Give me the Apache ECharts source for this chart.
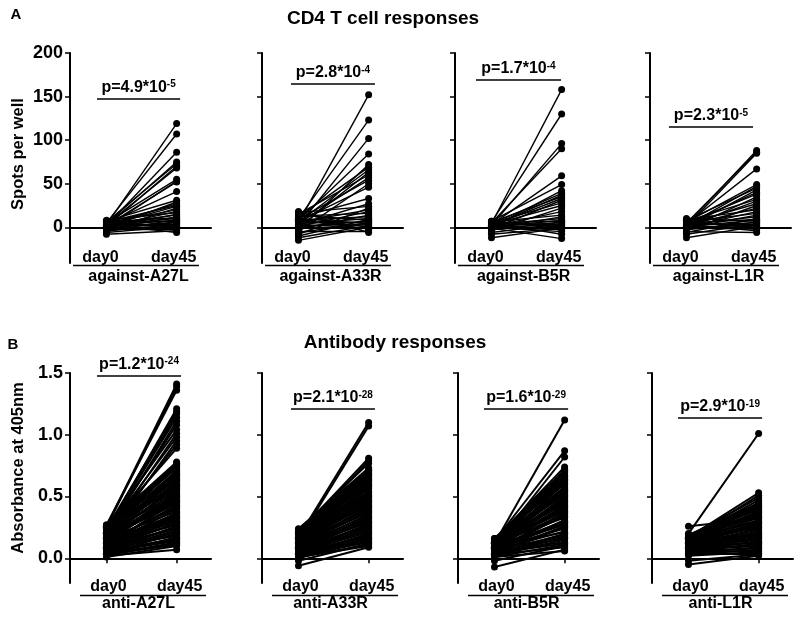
<!DOCTYPE html>
<html><head><meta charset="utf-8">
<script src="https://cdn.jsdelivr.net/npm/echarts@6/dist/echarts.min.js"></script>
<style>html,body{margin:0;padding:0;background:#fff}#c{width:800px;height:623px}</style>
</head><body><div id="c"></div>
<script>
// ---------------- DATA ----------------
const timepoints = ['day0', 'day45'];
const cd4Title = 'CD4 T cell responses';
const abTitle = 'Antibody responses';
const cd4YName = 'Spots per well';
const abYName = 'Absorbance at 405nm';
const cd4Antigens = ['against-A27L', 'against-A33R', 'against-B5R', 'against-L1R'];
const abAntigens = ['anti-A27L', 'anti-A33R', 'anti-B5R', 'anti-L1R'];
const cd4PValues = [['4.9', '-5'], ['2.8', '-4'], ['1.7', '-4'], ['2.3', '-5']];
const abPValues = [['1.2', '-24'], ['2.1', '-28'], ['1.6', '-29'], ['2.9', '-19']];
const cd4YTicks = [0, 50, 100, 150, 200];
const abYTicks = [0, 0.5, 1.0, 1.5];

// CD4 T cell responses (spots per well)
const cd4_A27L_day0 = [3,5,2,4,6,1,3,5,0,2,4,7,-1,3,6,2,-3,5,1,8,0,4,-2,6,3,-5,2,7,-1,0,4,-4,1,-6,5,-2,-8,3];
const cd4_A27L_day45 = [119,107,86,75,73,70,68,55,53,52,41,31,29,27,25,24,22,20,18,17,15,14,12,11,10,9,8,7,6,5,4,3,2,1,0,-2,-4,-6];
const cd4_A33R_day0 = [5,10,2,8,-3,12,6,0,15,4,9,-5,7,11,3,17,-8,6,1,13,-2,8,4,-10,14,0,5,-6,10,2,-12,7,-15,3,9,-4,18];
const cd4_A33R_day45 = [152,123,102,84,72,69,66,63,60,57,54,50,46,33,27,24,22,20,18,16,14,12,10,9,8,7,6,5,4,3,2,1,0,-1,-2,-4,-6];
const cd4_B5R_day0 = [4,6,2,5,3,7,0,4,1,6,2,-2,5,3,-4,1,6,-1,3,0,5,-3,2,-6,4,1,-2,7,-12,-8,3,0,5,-1];
const cd4_B5R_day45 = [158,130,96,90,59,49,42,39,37,35,33,31,28,25,22,18,14,12,10,8,7,6,5,4,3,2,1,0,-1,-1,-3,-5,-8,-13];
const cd4_L1R_day0 = [3,5,1,4,6,2,8,0,3,5,-2,7,1,4,-4,2,9,0,6,-1,3,-6,5,1,10,-3,2,-8,4,0,-12,6,-1,3,-5];
const cd4_L1R_day45 = [88,86,85,67,49,47,45,43,40,38,35,32,30,27,25,22,20,18,16,14,12,10,9,8,7,6,5,4,3,2,1,0,-2,-4,-6];

// Antibody responses (absorbance at 405nm)
const ab_A27L_day0 = [0.26,0.25,0.27,0.22,0.24,0.20,0.23,0.19,0.21,0.25,0.18,0.22,0.16,0.20,0.24,
  0.27,0.24,0.26,0.22,0.25,0.21,0.23,0.19,0.26,0.20,0.18,0.24,0.17,0.21,0.15,0.22,0.19,0.14,0.20,0.16,
  0.13,0.18,0.15,0.11,0.17,0.12,0.14,0.10,0.16,0.09,0.13,0.11,0.08,0.12,0.07,0.10,0.06,0.09,0.05,0.08,
  0.04,0.07,0.03,0.06,0.05,0.02,0.04,0.03,0.01,0.02,
  0.23,0.19,0.21,0.17,0.15,0.18,0.13,0.14,0.10,0.12,0.08,0.09,0.05,0.06,0.11,0.16,0.20];
const ab_A27L_day45 = [1.41,1.39,1.36,1.21,1.19,1.17,1.14,1.11,1.08,1.04,1.01,0.98,0.95,0.92,0.89,
  0.78,0.77,0.76,0.74,0.73,0.71,0.70,0.69,0.67,0.66,0.65,0.63,0.62,0.60,0.59,0.58,0.56,0.55,0.53,0.52,
  0.50,0.49,0.47,0.46,0.44,0.43,0.41,0.40,0.38,0.37,0.35,0.34,0.32,0.31,0.29,0.28,0.26,0.25,0.23,0.22,
  0.20,0.19,0.17,0.16,0.15,0.13,0.12,0.11,0.10,0.07,
  0.75,0.68,0.61,0.57,0.51,0.45,0.42,0.36,0.33,0.27,0.24,0.18,0.14,0.21,0.30,0.48,0.64];
const ab_A33R_day0 = [0.17,0.15,0.21,0.19,0.23,
  0.24,0.21,0.23,0.20,0.22,0.19,0.21,0.18,0.20,0.17,0.19,0.16,0.18,0.15,0.17,0.14,0.16,0.13,0.15,0.12,
  0.14,0.11,0.13,0.10,0.12,0.09,0.11,0.08,0.10,0.07,0.09,0.06,0.08,0.05,0.07,0.04,0.06,0.03,0.05,0.02,
  0.04,0.01,0.03,0.00,0.02,-0.02,0.01,-0.06,
  0.22,0.18,0.20,0.16,0.13,0.15,0.11,0.12,0.08,0.09,0.06,0.07,0.03,0.04,0.01,0.19];
const ab_A33R_day45 = [1.10,1.07,0.81,0.79,0.77,
  0.73,0.72,0.70,0.69,0.68,0.66,0.65,0.64,0.62,0.61,0.60,0.58,0.57,0.56,0.54,0.53,0.51,0.50,0.49,0.47,
  0.46,0.45,0.43,0.42,0.40,0.39,0.38,0.36,0.35,0.34,0.32,0.31,0.30,0.28,0.27,0.25,0.24,0.23,0.21,0.20,
  0.19,0.17,0.16,0.15,0.13,0.12,0.11,0.09,
  0.71,0.63,0.59,0.52,0.48,0.44,0.41,0.37,0.33,0.29,0.26,0.22,0.18,0.14,0.10,0.67];
const ab_B5R_day0 = [0.12,0.14,0.10,
  0.15,0.13,0.16,0.12,0.14,0.11,0.15,0.13,0.10,0.16,0.12,0.14,0.09,0.13,0.11,0.15,0.08,0.12,0.10,0.14,
  0.07,0.11,0.09,0.13,0.06,0.10,0.08,0.12,0.05,0.09,0.07,0.11,0.04,0.08,0.06,0.10,0.03,0.07,0.05,0.02,
  0.06,0.04,-0.02,0.03,-0.07,0.01,
  0.14,0.12,0.15,0.11,0.13,0.09,0.10,0.08,0.11,0.06,0.07,0.05,0.04,0.03,0.01,0.12];
const ab_B5R_day45 = [1.12,0.87,0.82,
  0.74,0.72,0.71,0.69,0.67,0.66,0.64,0.63,0.61,0.60,0.58,0.57,0.55,0.54,0.52,0.51,0.49,0.48,0.46,0.45,
  0.43,0.42,0.40,0.39,0.37,0.36,0.34,0.33,0.31,0.30,0.28,0.27,0.25,0.24,0.22,0.21,0.19,0.18,0.16,0.15,
  0.13,0.12,0.10,0.09,0.07,0.06,
  0.70,0.65,0.62,0.56,0.53,0.50,0.47,0.41,0.38,0.35,0.29,0.26,0.20,0.17,0.11,0.44];
const ab_L1R_day0 = [0.20,0.17,0.15,0.18,0.16,
  0.19,0.17,0.18,0.16,0.19,0.15,0.17,0.14,0.16,0.13,0.26,0.15,0.12,0.14,0.11,0.13,0.10,0.12,0.09,0.11,
  0.08,0.10,0.07,0.09,0.06,0.08,0.05,0.07,0.04,0.06,0.03,0.02,0.04,-0.02,-0.05,
  0.18,0.16,0.14,0.15,0.12,0.11,0.09,0.07,0.05,0.17,0.13,0.10];
const ab_L1R_day45 = [1.01,0.53,0.51,0.49,0.47,
  0.44,0.43,0.42,0.40,0.39,0.38,0.37,0.35,0.34,0.33,0.32,0.30,0.29,0.28,0.27,0.25,0.24,0.23,0.22,0.20,
  0.19,0.18,0.17,0.15,0.14,0.13,0.12,0.10,0.09,0.08,0.07,0.05,0.04,0.03,0.02,
  0.41,0.36,0.31,0.26,0.21,0.16,0.13,0.11,0.06,0.45,0.28,0.19];

// ---------------- LAYOUT ----------------
const FONT = '"Liberation Sans", Arial, Helvetica, sans-serif';
const rows = [
  {
    title: cd4Title, letter: 'A', yName: cd4YName, names: cd4Antigens, pvals: cd4PValues, ticks: cd4YTicks,
    day0: [cd4_A27L_day0, cd4_A33R_day0, cd4_B5R_day0, cd4_L1R_day0],
    day45: [cd4_A27L_day45, cd4_A33R_day45, cd4_B5R_day45, cd4_L1R_day45],
    lefts: [70, 262, 455, 650], top: 53, height: 210, min: -41, max: 200, fmt: v => String(v),
    pY: [148, 164.5, 169, 115], pX: [[-0.135, 1.05], [-0.107, 1.09], [-0.221, 0.991], [-0.25, 0.949]],
    titleXY: [383, 19], letterXY: [16, 15], yNameXY: [18, 154], lineW: 1.4,
    dayOff: [-6, -3], dayY: 258, lineY: 265.5, lineX: [3, 129], catY: 277
  },
  {
    title: abTitle, letter: 'B', yName: abYName, names: abAntigens, pvals: abPValues, ticks: abYTicks,
    day0: [ab_A27L_day0, ab_A33R_day0, ab_B5R_day0, ab_L1R_day0],
    day45: [ab_A27L_day45, ab_A33R_day45, ab_B5R_day45, ab_L1R_day45],
    lefts: [70, 262, 458, 652], top: 373, height: 210, min: -0.2, max: 1.5, fmt: v => v.toFixed(1),
    pY: [1.479, 1.209, 1.209, 1.136], pX: [[-0.135, 1.063], [-0.107, 1.09], [-0.15, 1.05], [-0.15, 1.05]],
    titleXY: [395, 343], letterXY: [13, 345], yNameXY: [18, 468], lineW: 2,
    dayOff: [2, 3], dayY: 587, lineY: 595.5, lineX: [10, 136], catY: 604
  }
];
const GRID_W = 141, XMIN = -0.52, XMAX = 1.49;

const grid = [], xAxis = [], yAxis = [], series = [];
rows.forEach((r, ri) => {
  r.lefts.forEach((left, i) => {
    const g = ri * 4 + i;
    grid.push({ left: left, top: r.top, width: GRID_W, height: r.height, containLabel: false });
    xAxis.push({
      type: 'value', gridIndex: g, min: XMIN, max: XMAX,
      axisLine: { show: true, onZero: true, lineStyle: { color: '#000', width: 2 } },
      axisTick: { show: true, customValues: [0, 1], length: 5, lineStyle: { color: '#000', width: 1.5 } },
      axisLabel: { show: false }, splitLine: { show: false }
    });
    yAxis.push({
      type: 'value', gridIndex: g, min: r.min, max: r.max,
      axisLine: { show: true, onZero: false, lineStyle: { color: '#000', width: 2 } },
      axisTick: { show: true, customValues: r.ticks, length: 5, lineStyle: { color: '#000', width: 1.5 } },
      axisLabel: {
        show: i === 0, customValues: r.ticks, formatter: r.fmt, margin: 7,
        fontSize: 18, fontWeight: 'bold', fontFamily: FONT, color: '#000'
      },
      splitLine: { show: false }
    });
    const d0 = r.day0[i], d45 = r.day45[i];
    series.push({
      type: 'lines', coordinateSystem: 'cartesian2d', xAxisIndex: g, yAxisIndex: g,
      silent: true, z: 2, polyline: false,
      lineStyle: { color: '#000', width: r.lineW, opacity: 1, curveness: 0 },
      data: d0.map((v, k) => ({ coords: [[0, v], [1, d45[k]]] }))
    });
    const p = r.pvals[i];
    series.push({
      type: 'scatter', xAxisIndex: g, yAxisIndex: g, silent: true, z: 3,
      symbol: 'circle', symbolSize: 7, itemStyle: { color: '#000', opacity: 1 },
      data: d0.map(v => [0, v]).concat(d45.map(v => [1, v])),
      markLine: {
        silent: true, symbol: ['none', 'none'], animation: false,
        lineStyle: { color: '#000', width: 1.5, type: 'solid' },
        label: {
          show: true, position: 'insideMiddleTop', distance: 3,
          formatter: '{b|p=' + p[0] + '*10}{s|' + p[1] + '}',
          rich: {
            b: { fontSize: 16, fontWeight: 'bold', fontFamily: FONT, color: '#000', lineHeight: 16 },
            s: { fontSize: 10, fontWeight: 'bold', fontFamily: FONT, color: '#000', lineHeight: 10, verticalAlign: 'top' }
          }
        },
        data: [[{ coord: [r.pX[i][0], r.pY[i]] }, { coord: [r.pX[i][1], r.pY[i]] }]]
      }
    });
  });
});

const chart = echarts.init(document.getElementById('c'), null, { renderer: 'canvas' });
chart.setOption({ animation: false, backgroundColor: '#fff', grid, xAxis, yAxis, series });

// ---------------- TEXT / DECORATION ----------------
function txt(s, x, y, size, extra) {
  return Object.assign({
    type: 'text', x: x, y: y, silent: true,
    style: { text: s, fontSize: size, fontWeight: 'bold', fontFamily: FONT, fill: '#000',
      align: 'center', verticalAlign: 'middle', textAlign: 'center', textVerticalAlign: 'middle' }
  }, extra || {});
}
const graphic = [];
rows.forEach((r, ri) => {
  graphic.push(txt(r.title, r.titleXY[0], r.titleXY[1], 19));
  graphic.push(txt(r.letter, r.letterXY[0], r.letterXY[1], 15));
  graphic.push(txt(r.yName, r.yNameXY[0], r.yNameXY[1], 16.5, { rotation: Math.PI / 2 }));
  r.lefts.forEach((left, i) => {
    const g = ri * 4 + i;
    const p0 = chart.convertToPixel({ gridIndex: g }, [0, 0]);
    const p1 = chart.convertToPixel({ gridIndex: g }, [1, 0]);
    graphic.push(txt(timepoints[0], p0[0] + r.dayOff[0], r.dayY, 16));
    graphic.push(txt(timepoints[1], p1[0] + r.dayOff[1], r.dayY, 16));
    graphic.push({ type: 'line', silent: true,
      shape: { x1: left + r.lineX[0], y1: r.lineY, x2: left + r.lineX[1], y2: r.lineY },
      style: { stroke: '#000', lineWidth: 1.5 } });
    graphic.push(txt(r.names[i], (p0[0] + p1[0]) / 2 - 3, r.catY, 16));
  });
});
chart.setOption({ graphic: graphic });
</script>
</body></html>
